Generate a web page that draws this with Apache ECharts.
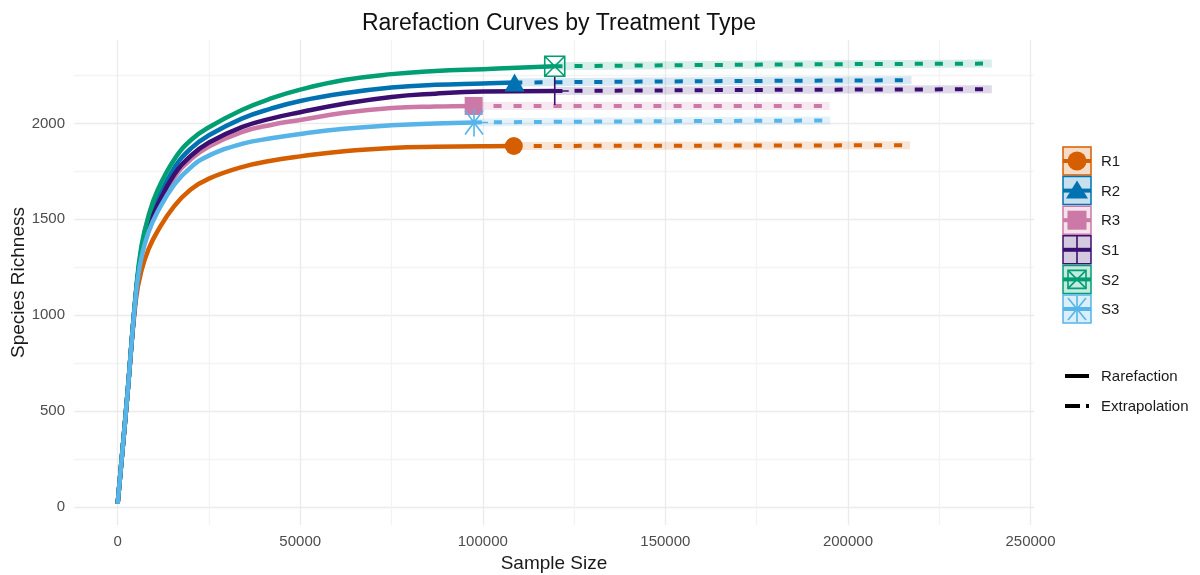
<!DOCTYPE html>
<html><head><meta charset="utf-8">
<script src="https://cdn.jsdelivr.net/npm/echarts@6/dist/echarts.min.js"></script>
<style>html,body{margin:0;padding:0;background:#fff}#c{width:1200px;height:575px}</style>
</head><body><div id="c"></div>
<script>
// ---------- data ----------
const groups = ['R1', 'R2', 'R3', 'S1', 'S2', 'S3'];
const colors = ['#D55E00', '#0072B2', '#CC79A7', '#3B0F70', '#009E73', '#56B4E9'];
// rarefaction (interpolated) curve, sample sizes shared by all groups
const rareX  = [0, 2500, 5000, 6500, 8500, 11000, 15500, 20000, 25000, 34000, 42000, 50000, 62000, 75000, 87000, 100000];
const rareR1 = [15, 545, 1080, 1230, 1345, 1440, 1568, 1655, 1712, 1772, 1805, 1828, 1855, 1872, 1878, 1881];
const rareR2 = [15, 545, 1110, 1335, 1480, 1602, 1768, 1868, 1938, 2025, 2077, 2117, 2157, 2187, 2201, 2208];
const rareR3 = [15, 545, 1110, 1310, 1450, 1562, 1717, 1812, 1880, 1955, 1992, 2018, 2055, 2080, 2088, 2091];
const rareS1 = [15, 545, 1110, 1320, 1460, 1576, 1733, 1830, 1900, 1980, 2025, 2058, 2102, 2138, 2155, 2166];
const rareS2 = [15, 550, 1120, 1358, 1520, 1654, 1812, 1912, 1980, 2070, 2130, 2176, 2226, 2257, 2273, 2283];
const rareS3 = [15, 545, 1105, 1300, 1435, 1541, 1681, 1770, 1832, 1893, 1922, 1945, 1972, 1990, 2000, 2004];
// observed sample (marker)
const obsSize = [108500, 108700, 97500, 119700, 119700, 97600];
const obsRich = [1882, 2213, 2091, 2169, 2298, 2005];
// extrapolation
const extMidSize = [160000, 160000, 145000, 180000, 180000, 145000];
const extMidRich = [1884, 2220, 2091, 2175, 2307, 2011];
const extEndSize = [217000, 217400, 195000, 239400, 239400, 195200];
const extEndRich = [1886, 2225, 2091, 2178, 2312, 2015];
// ticks
const xLabelTicks = [0, 50000, 100000, 150000, 200000, 250000];
const xGridTicks  = [0, 25000, 50000, 75000, 100000, 125000, 150000, 175000, 200000, 225000, 250000];
const yLabelTicks = [0, 500, 1000, 1500, 2000];
const yGridTicks  = [0, 250, 500, 750, 1000, 1250, 1500, 1750, 2000, 2250];
const typeLabels  = ['Rarefaction', 'Extrapolation'];

// ---------- chart ----------
const FONT = "'Liberation Sans', Arial, sans-serif";
const rareY = [rareR1, rareR2, rareR3, rareS1, rareS2, rareS3];
const symbols = [
  {symbol: 'circle', size: 18, fill: true},
  {symbol: 'triangle', size: [20, 18], fill: true},
  {symbol: 'rect', size: 18, fill: true},
  {symbol: 'path://M14,0L14,28M0,14L28,14', size: 28, fill: false},
  {symbol: 'path://M0,0L20,0L20,20L0,20ZM0,0L20,20M20,0L0,20', size: 20, fill: false},
  {symbol: 'path://M14,0L14,28M0,14L28,14M5,2L23,26M23,2L5,26', size: 28, fill: false}
];
function rgba(hex, a) {
  const n = parseInt(hex.slice(1), 16);
  return 'rgba(' + ((n >> 16) & 255) + ',' + ((n >> 8) & 255) + ',' + (n & 255) + ',' + a + ')';
}

const series = [];
groups.forEach((g, i) => {
  const c = colors[i];
  const pts = rareX.map((x, k) => [x, rareY[i][k]]).filter(p => p[0] < obsSize[i]);
  pts.push([obsSize[i], obsRich[i]]);
  const ext = [[obsSize[i], obsRich[i]], [extMidSize[i], extMidRich[i]], [extEndSize[i], extEndRich[i]]];
  series.push({type: 'line', name: g + '-band', data: ext, symbol: 'none', z: 1, silent: true, smooth: 0.4,
    lineStyle: {color: c, width: 8, opacity: 0.16, cap: 'butt'}});
  series.push({type: 'line', name: g, data: pts, symbol: 'none', z: 2, smooth: 0.45, silent: true,
    lineStyle: {color: c, width: 4.5, cap: 'butt', join: 'round'}});
  series.push({type: 'line', name: g + '-ext', data: ext, symbol: 'none', z: 2, silent: true, smooth: 0.4,
    lineStyle: {color: c, width: 4, type: [8, 12], cap: 'butt'}});
});
groups.forEach((g, i) => {
  const c = colors[i], s = symbols[i];
  series.push({type: 'scatter', name: g + '-obs', data: [[obsSize[i], obsRich[i]]], z: 3, silent: true,
    symbol: s.symbol, symbolSize: s.size,
    itemStyle: s.fill ? {color: c, opacity: 1} : {color: 'transparent', borderColor: c, borderWidth: 1.6, opacity: 1}});
});

// legend drawn as graphic
const legendX = 1063, box = 28, legendTop = 147, step = 29.6, textX = 1101;
const els = [];
groups.forEach((g, i) => {
  const c = colors[i];
  const cy = legendTop + box / 2 + i * step, cx = legendX + box / 2;
  els.push({type: 'rect', shape: {x: legendX, y: cy - box / 2, width: box, height: box}, style: {fill: rgba(c, 0.22), stroke: c, lineWidth: 1.5}});
  els.push({type: 'line', shape: {x1: legendX, y1: cy, x2: legendX + box, y2: cy}, style: {stroke: c, lineWidth: 4}});
  if (i === 0) els.push({type: 'circle', shape: {cx: cx, cy: cy, r: 9.5}, style: {fill: c}});
  if (i === 1) els.push({type: 'polygon', shape: {points: [[cx, cy - 10], [cx - 11, cy + 8], [cx + 11, cy + 8]]}, style: {fill: c}});
  if (i === 2) els.push({type: 'rect', shape: {x: cx - 9.5, y: cy - 9.5, width: 19, height: 19}, style: {fill: c}});
  if (i === 3) {
    els.push({type: 'line', shape: {x1: cx, y1: cy - 14, x2: cx, y2: cy + 14}, style: {stroke: c, lineWidth: 1.6}});
  }
  if (i === 4) {
    els.push({type: 'rect', shape: {x: cx - 9, y: cy - 9, width: 18, height: 18}, style: {fill: 'none', stroke: c, lineWidth: 1.6}});
    els.push({type: 'line', shape: {x1: cx - 9, y1: cy - 9, x2: cx + 9, y2: cy + 9}, style: {stroke: c, lineWidth: 1.6}});
    els.push({type: 'line', shape: {x1: cx + 9, y1: cy - 9, x2: cx - 9, y2: cy + 9}, style: {stroke: c, lineWidth: 1.6}});
  }
  if (i === 5) {
    els.push({type: 'line', shape: {x1: cx, y1: cy - 13, x2: cx, y2: cy + 13}, style: {stroke: c, lineWidth: 1.6}});
    els.push({type: 'line', shape: {x1: cx - 9, y1: cy - 11, x2: cx + 9, y2: cy + 11}, style: {stroke: c, lineWidth: 1.6}});
    els.push({type: 'line', shape: {x1: cx + 9, y1: cy - 11, x2: cx - 9, y2: cy + 11}, style: {stroke: c, lineWidth: 1.6}});
  }
  els.push({type: 'text', x: textX, y: cy + 1, style: {text: g, fill: '#1a1a1a', font: '15px ' + FONT, textAlign: 'left', textVerticalAlign: 'middle', verticalAlign: 'middle'}});
});
els.push({type: 'line', shape: {x1: 1065, y1: 376, x2: 1089, y2: 376}, style: {stroke: '#000', lineWidth: 4}});
els.push({type: 'line', shape: {x1: 1065, y1: 406, x2: 1080, y2: 406}, style: {stroke: '#000', lineWidth: 4}});
els.push({type: 'line', shape: {x1: 1086, y1: 406, x2: 1089, y2: 406}, style: {stroke: '#000', lineWidth: 4}});
els.push({type: 'text', x: textX, y: 377, style: {text: typeLabels[0], fill: '#1a1a1a', font: '15px ' + FONT, textVerticalAlign: 'middle', verticalAlign: 'middle'}});
els.push({type: 'text', x: textX, y: 407, style: {text: typeLabels[1], fill: '#1a1a1a', font: '15px ' + FONT, textVerticalAlign: 'middle', verticalAlign: 'middle'}});

const plain = v => String(v);
const chart = echarts.init(document.getElementById('c'), null, {renderer: 'canvas'});
chart.setOption({
  animation: false,
  backgroundColor: '#ffffff',
  textStyle: {fontFamily: FONT},
  title: {text: 'Rarefaction Curves by Treatment Type', left: 554, top: 7, textAlign: 'center',
    textStyle: {fontSize: 23, fontWeight: 'normal', color: '#111', fontFamily: FONT}},
  grid: {left: 74, right: 166, top: 40, bottom: 50, containLabel: false, outerBoundsMode: 'none'},
  xAxis: {
    type: 'value', min: -11950, max: 250950,
    name: 'Sample Size', nameLocation: 'middle', nameGap: 29, nameMoveOverlap: false,
    nameTextStyle: {fontSize: 19, color: '#1a1a1a', fontFamily: FONT},
    axisLine: {show: false}, axisTick: {show: false, customValues: xGridTicks},
    axisLabel: {customValues: xLabelTicks, formatter: plain, fontSize: 15, color: '#4d4d4d', margin: 9, fontFamily: FONT},
    splitLine: {show: true, lineStyle: {color: ['#ebebeb', '#f3f3f3'], width: 1.3}}
  },
  yAxis: {
    type: 'value', min: -95, max: 2435,
    name: 'Species Richness', nameLocation: 'middle', nameGap: 46, nameMoveOverlap: false,
    nameTextStyle: {fontSize: 19, color: '#1a1a1a', fontFamily: FONT},
    axisLine: {show: false}, axisTick: {show: false, customValues: yGridTicks},
    axisLabel: {customValues: yLabelTicks, formatter: plain, fontSize: 15, color: '#4d4d4d', margin: 9, fontFamily: FONT},
    splitLine: {show: true, lineStyle: {color: ['#ebebeb', '#f3f3f3'], width: 1.3}}
  },
  graphic: {elements: els},
  series: series
});
</script></body></html>
